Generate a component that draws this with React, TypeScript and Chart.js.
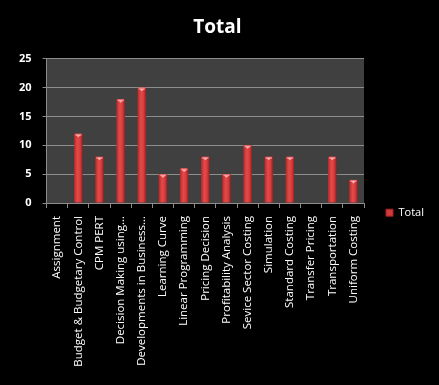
import React, { useEffect, useRef } from "react";
import { Chart, registerables } from "chart.js";

Chart.register(...registerables);

const categories = [
  "Assignment",
  "Budget & Budgetary Control",
  "CPM PERT",
  "Decision Making using…",
  "Developments in Business…",
  "Learning Curve",
  "Linear Programming",
  "Pricing Decision",
  "Profitability Analysis",
  "Sevice Sector Costing",
  "Simulation",
  "Standard Costing",
  "Transfer Pricing",
  "Transportation",
  "Uniform Costing",
];
const seriesLabel = "Total";
const totalValues = [0, 12, 8, 18, 20, 5, 6, 8, 5, 10, 8, 8, 0, 8, 4];
const yTicks = [0, 5, 10, 15, 20, 25];

const FONT = "'Open Sans', 'DejaVu Sans', sans-serif";

const bgPlugin = {
  id: "bgPlugin",
  beforeDraw(chart: any) {
    const { ctx, chartArea } = chart;
    ctx.save();
    ctx.fillStyle = "#000000";
    ctx.fillRect(0, 0, chart.width, chart.height);
    ctx.fillStyle = "#404040";
    ctx.fillRect(chartArea.left, chartArea.top, chartArea.right - chartArea.left, chartArea.bottom - chartArea.top);
    ctx.restore();
  },
  afterDatasetsDraw(chart: any) {
    const { ctx } = chart;
    const meta = chart.getDatasetMeta(0);
    ctx.save();
    meta.data.forEach((bar: any, i: number) => {
      if (!totalValues[i]) return;
      const w = bar.width;
      const x0 = bar.x - w / 2;
      const y0 = bar.y;
      ctx.fillStyle = "#f07070";
      ctx.fillRect(x0 + 1, y0, w - 2, 2);
      ctx.fillStyle = "#ffb0b0";
      ctx.beginPath();
      ctx.moveTo(bar.x - 2.5, y0 + 1);
      ctx.lineTo(bar.x + 2.5, y0 + 1);
      ctx.lineTo(bar.x, y0 + 3.5);
      ctx.closePath();
      ctx.fill();
    });
    ctx.restore();
  },
};

export default function App() {
  const ref = useRef<HTMLCanvasElement | null>(null);
  useEffect(() => {
    document.body.style.margin = "0";
    document.body.style.background = "#000";
    const canvas = ref.current;
    if (!canvas) return;
    const chart = new Chart(canvas, {
      type: "bar",
      data: {
        labels: categories,
        datasets: [
          {
            label: seriesLabel,
            data: totalValues,
            backgroundColor: (c: any) => {
              const chart = c.chart;
              const xs = chart.scales && chart.scales.x;
              if (!xs || c.type !== "data" || !xs.width) return "#c83030";
              const cx = xs.getPixelForValue(c.dataIndex);
              const w = 9;
              const g = chart.ctx.createLinearGradient(cx - w / 2, 0, cx + w / 2, 0);
              g.addColorStop(0, "#b02626");
              g.addColorStop(0.4, "#e44a4a");
              g.addColorStop(0.7, "#d63c3c");
              g.addColorStop(1, "#921c1c");
              return g;
            },
            borderWidth: 0,
            categoryPercentage: 1,
            barPercentage: 0.4,
          },
        ],
      },
      options: {
        responsive: false,
        animation: false,
        layout: { padding: { left: 8, right: 12, top: 0, bottom: 18 } },
        plugins: {
          title: {
            display: true,
            text: "Total",
            color: "#ffffff",
            font: { family: FONT, size: 19, weight: "bold" },
            padding: { top: 16, bottom: 20 },
          },
          legend: {
            position: "right",
            align: "start",
            maxWidth: 63,
            title: {
              display: true,
              text: "",
              color: "rgba(0,0,0,0)",
              font: { family: FONT, size: 11 },
              padding: { top: 172, bottom: 0 },
            },
            labels: {
              color: "#ffffff",
              font: { family: FONT, size: 11 },
              boxWidth: 7,
              boxHeight: 7,
              padding: 22,
              generateLabels: (chart: any) =>
                chart.data.datasets.map((ds: any, i: number) => ({
                  text: ds.label,
                  fillStyle: "#d03a3a",
                  strokeStyle: "#a82020",
                  lineWidth: 1,
                  fontColor: "#ffffff",
                  datasetIndex: i,
                  hidden: false,
                })),
            },
          },
          tooltip: { enabled: false },
        },
        scales: {
          x: {
            afterFit: (axis: any) => {
              axis.height = 164;
            },
            grid: {
              display: true,
              drawOnChartArea: false,
              drawTicks: true,
              tickLength: 5,
              color: "#8c8c8c",
              offset: true,
            },
            border: { display: true, color: "#8c8c8c", width: 1 },
            ticks: {
              color: "#ffffff",
              font: { family: FONT, size: 11.5 },
              minRotation: 90,
              maxRotation: 90,
              autoSkip: false,
              padding: 8,
            },
          },
          y: {
            min: 0,
            max: 25,
            afterBuildTicks: (axis: any) => {
              axis.ticks = yTicks.map((v) => ({ value: v }));
            },
            grid: {
              color: "#8c8c8c",
              lineWidth: 1,
              drawTicks: true,
              tickLength: 4,
            },
            border: { display: true, color: "#8c8c8c", width: 1 },
            ticks: {
              color: "#ffffff",
              font: { family: FONT, size: 11, weight: "bold" },
              padding: 11,
            },
          },
        },
      },
      plugins: [bgPlugin],
    });
    return () => chart.destroy();
  }, []);
  return (
    <div style={{ width: 439, height: 385, background: "#000" }}>
      <canvas ref={ref} width={439} height={385} />
    </div>
  );
}
